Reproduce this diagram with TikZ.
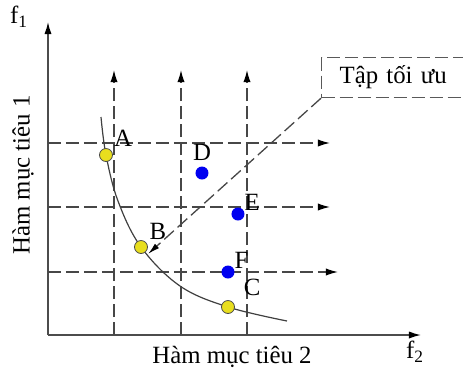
\documentclass[tikz,border=0pt]{standalone}
\usepackage{fontspec}
\setmainfont{Liberation Serif}
\usetikzlibrary{arrows.meta, positioning}
\definecolor{optyellow}{RGB}{232,222,30}
\definecolor{domblue}{RGB}{0,0,240}

\begin{document}
\begin{tikzpicture}[x=0.5pt, y=-0.5pt, font=\fontsize{12.4}{14}\selectfont,
  axis/.style={draw=black!70, line width=0.75pt,
               -{Latex[length=6pt,width=3.6pt,black]}},
  gridline/.style={draw=black!72, line width=0.65pt, dash pattern=on 6.5pt off 2.5pt,
                   -{Latex[length=6pt,width=3.6pt,black]}},
  optpt/.style={circle, draw=black!70, line width=0.4pt, fill=optyellow,
                inner sep=0pt, minimum size=6.5pt},
  dompt/.style={circle, fill=domblue, inner sep=0pt, minimum size=6.5pt},
  ptlabel/.style={inner sep=0pt}]
  \useasboundingbox (0,0) rectangle (463,372);

  % axes
  \coordinate (O) at (48,335);
  \coordinate (ytip) at (48,22);
  \coordinate (xtip) at (421,335);
  \draw[axis] (O) -- (ytip);
  \draw[axis] (O) -- (xtip);
  \node (f1) at (19,17) {f\textsubscript{1}};
  \node (f2) at (415,352) {f\textsubscript{2}};
  \node[rotate=90] (ylab) at (23,175) {Hàm mục tiêu 1};
  \node (xlab) at (232,357) {Hàm mục tiêu 2};

  % dashed grid
  \foreach \x [count=\i] in {114,181,247} {
    \coordinate (vb\i) at (\x,335);
    \coordinate (vt\i) at (\x,70);
    \draw[gridline] (vb\i) -- (vt\i);
  }
  \foreach \y/\e [count=\i] in {143/330,207/330,272/338} {
    \coordinate (hl\i) at (48,\y);
    \coordinate (hr\i) at (\e,\y);
    \draw[gridline] (hl\i) -- (hr\i);
  }

  % pareto front
  \draw[black!75, line width=0.6pt] plot[smooth, tension=0.6] coordinates
    {(101,117) (106,155) (118,201) (141,247) (180,286) (228,307) (287,321)};

  % points
  \node[optpt, label={[ptlabel, label distance=2pt]45:A}] (A) at (106,155) {};
  \node[optpt, label={[ptlabel, label distance=2pt]40:B}] (B) at (141,247) {};
  \node[optpt, label={[ptlabel, label distance=6pt]35:C}] (C) at (228,307) {};
  \node[dompt, label={[ptlabel, label distance=2.5pt]90:D}] (D) at (202,173) {};
  \node[dompt, label={[ptlabel, label distance=0pt]25:E}] (E) at (238,214) {};
  \node[dompt, label={[ptlabel, label distance=0pt]25:F}] (F) at (228,272) {};

  % annotation box
  \node[draw=black!65, line width=0.6pt, dash pattern=on 6.5pt off 2.5pt,
        anchor=north west, minimum height=20pt, inner xsep=9pt,
        text width=62pt, align=left] (opt) at (321,57) {Tập tối ưu};
  \coordinate (btip) at (148,254);
  \draw[gridline, -{Latex[length=6pt,width=3pt,black]}] (opt.south west) -- (btip);
\end{tikzpicture}
\end{document}
